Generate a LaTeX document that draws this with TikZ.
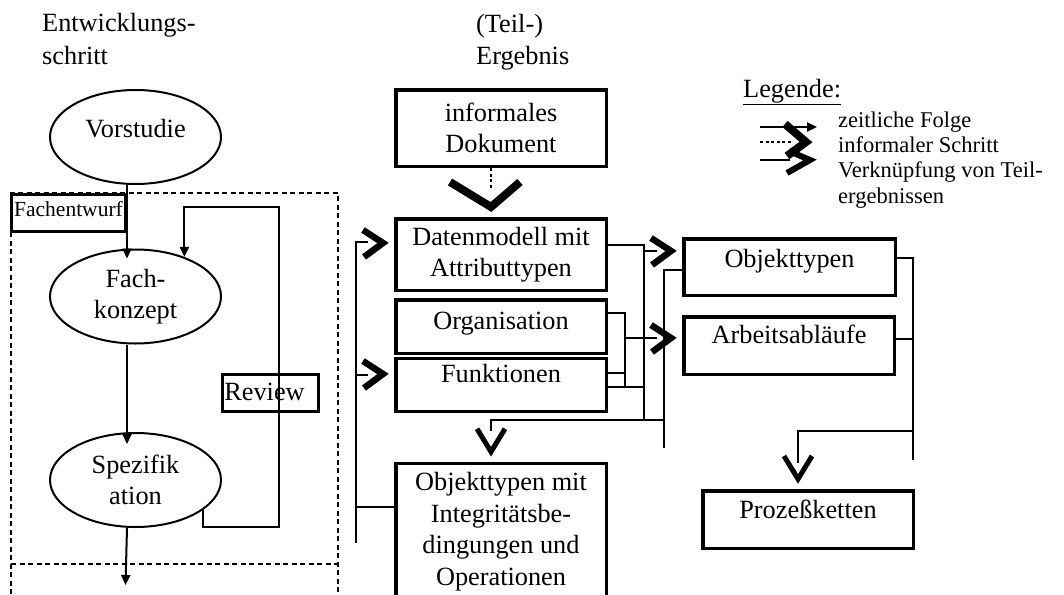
\documentclass[tikz,border=0pt]{standalone}
\usepackage{fontspec}
\setmainfont{Liberation Serif}
\usetikzlibrary{shapes.geometric,arrows.meta,calc}
\begin{document}
\begin{tikzpicture}[x=1pt,y=-1pt,
  every node/.style={inner sep=0pt, font=\fontsize{26.3}{31.5}\selectfont},
  sfont/.style={font=\fontsize{22.5}{25.3}\selectfont},
  fefont/.style={font=\fontsize{21.5}{25}\selectfont},
  box/.style={draw, line width=3.5pt, rectangle, minimum width=210.5pt},
  thinbox/.style={draw, line width=3pt, rectangle},
  ell/.style={draw, ellipse, line width=2pt, minimum width=171pt, minimum height=94pt, align=center},
  ln/.style={line width=2.2pt},
  arr/.style={line width=2pt, -{Triangle[length=10pt,width=9pt]}},
  dsh/.style={line width=1.3pt, dash pattern=on 5pt off 3.5pt},
  dotln/.style={line width=1.8pt, dash pattern=on 3pt off 2.5pt},
  chev/.style={line width=6.5pt, line join=miter, miter limit=10},
  chevR/.pic={\draw[chev] (-20,-13) -- (0,0) -- (-19,14);},
  chevD/.pic={\draw[chev, line width=5pt] (-14,-23) -- (0,0) -- (14,-23);},
  chevI/.pic={\draw[chev, line width=8pt] (-41,-25) -- (0,0) -- (29,-25);},
]
\useasboundingbox (0,0) rectangle (1064,594);
\clip (0,0) rectangle (1064,594);
\fill[white] (0,0) rectangle (1064,594);

% headers
\node[anchor=base west] (hA1) at (42,32) {Entwicklungs-};
\node[anchor=base west] (hA2) at (42,64) {schritt};
\node[anchor=base west] (hB1) at (476,33) {(Teil-)};
\node[anchor=base west] (hB2) at (476,64) {Ergebnis};

% legend
\node[anchor=base west] (lg0) at (743,97) {\underline{Legende:}};
\node[anchor=base west, sfont] (lg1) at (838,127) {zeitliche Folge};
\node[anchor=base west, sfont] (lg2) at (838,152) {informaler Schritt};
\node[anchor=base west, sfont] (lg3) at (838,177) {Verknüpfung von Teil-};
\node[anchor=base west, sfont] (lg4) at (838,203) {ergebnissen};
\draw[ln, -{Triangle[length=10pt,width=9pt]}] (760,127) -- (817,127);
\draw[dotln] (760,142) -- (792,142);
\draw[ln] (760,160) -- (790,160);
\draw[chev, line width=8pt] (785,124) -- (806,142) -- (787,156);
\draw[chev, line width=6pt] (789,151) -- (810,160) -- (787,173);

% dashed phase frame
\draw[dsh] (11,594) -- (11,193) -- (338,193) -- (338,594);
\draw[dsh] (11,564) -- (338,564);

% left column
\node[ell, text height=18pt, text depth=18pt] (vs) at (135.5,137) {Vorstudie};
\node[ell] (fk) at (135.5,296.5) {Fach-\\konzept};
\node[ell] (sp) at (135.5,480) {Spezifik\\ation};
\node[thinbox, fefont, fill=white, minimum width=114pt, minimum height=37pt, text height=15pt, text depth=7.6pt] (fe) at (68.5,213) {Fachentwurf};
\node[thinbox, minimum width=96pt, minimum height=37pt, text height=18pt, text depth=2.6pt] (rv) at (270.5,393) {Review\kern12pt};

\coordinate (rb) at (279,527);
\coordinate (rt) at (279,207);
\coordinate (dn) at (125.5,585);
\draw[arr] (vs.south -| fe.east) -- ($(fk.north -| fe.east)+(0,10)$);
\draw[arr] (fk.south -| fe.east) -- ($(sp.north -| fe.east)+(0,12)$);
\draw[arr] (sp.south -| fe.east) -- (dn);
\draw[arr] (sp.-24) |- (rb) -- (rt) -| (fk.39);

% middle column
\node[box, minimum height=76.5pt, align=center] (idoc) at (501,128) {informales\\Dokument};
\node[box, minimum height=71.5pt, align=center] (dm) at (501,254.5) {Datenmodell mit\\Attributtypen};
\node[box, minimum height=53.5pt, text height=18pt, text depth=13pt] (org) at (501,326.5) {Organisation};
\node[box, minimum height=52.75pt, text height=18pt, text depth=23.8pt] (fkt) at (501,384.9) {Funktionen};
\node[box, minimum height=136.5pt, anchor=north, align=center] (otm) at (501,461.75) {Objekttypen mit\\Integritätsbe-\\dingungen und\\Operationen};

% right column
\node[box, minimum width=211.5pt, minimum height=56.5pt, text height=18pt, text depth=18pt] (ot) at (789.5,267) {Objekttypen};
\node[box, minimum height=57.5pt, text height=18pt, text depth=23pt] (aa) at (789,345.5) {Arbeitsabläufe};
\node[box, minimum height=57.5pt, text height=18pt, text depth=21pt] (pk) at (808,519.5) {Prozeßketten};

% junction coordinates
\coordinate (b1) at (644,245);
\coordinate (b1e) at (644,419);
\coordinate (b1f) at (644,387);
\coordinate (c1) at (644,251);
\coordinate (b2t) at (625,313);
\coordinate (b2m) at (625,373);
\coordinate (b2e) at (625,387);
\coordinate (c2) at (625,338);
\coordinate (b3) at (664,270);
\coordinate (b3e) at (664,448);
\coordinate (h1) at (664,420);
\coordinate (v1) at (491,420);
\coordinate (l1) at (356,242);
\coordinate (l2) at (356,375);
\coordinate (l3) at (356,507);
\coordinate (l4) at (356,543);
\coordinate (r1) at (913,258);
\coordinate (r2) at (913,339);
\coordinate (r3) at (913,460);
\coordinate (h2) at (913,431);
\coordinate (p1) at (798,431);

% connectors
\draw[dotln, shorten >=27pt] (idoc.south -| v1) -- (dm.north -| v1);
\pic at ($(dm.north -| v1)+(0,-10)$) {chevI};

\draw[ln] (dm.east |- b1) -- (b1) -- (b1e);
\draw[ln] (fkt.east |- b1f) -- (b1f);
\draw[ln, shorten >=25pt] (c1) -- (ot.west |- c1);
\pic at ($(ot.west |- c1)+(-11,0)$) {chevR};
\draw[ln] (ot.west |- b3) -- (b3) -- (b3e);
\draw[ln] (org.east |- b2t) -- (b2t) -- (b2e);
\draw[ln] (fkt.east |- b2m) -- (b2m);
\draw[ln, shorten >=25pt] (c2) -- (aa.west |- c2);
\pic at ($(aa.west |- c2)+(-11,0)$) {chevR};
\draw[ln, shorten >=31pt] (h1) -- (v1) -- (v1 |- otm.north);
\pic at ($(v1 |- otm.north)+(0,-10)$) {chevD};

\draw[ln] (otm.west |- l3) -- (l3);
\draw[ln, shorten >=26pt] (l4) -- (l1) -- (dm.west |- l1);
\pic at ($(dm.west |- l1)+(-11,1)$) {chevR};
\draw[ln, shorten >=26pt] (l2) -- (fkt.west |- l2);
\pic at ($(fkt.west |- l2)+(-11,-1)$) {chevR};

\draw[ln] (ot.east |- r1) -- (r1) -- (r3);
\draw[ln] (aa.east |- r2) -- (r2);
\draw[ln, shorten >=26pt] (h2) -- (p1) -- (p1 |- pk.north);
\pic at ($(p1 |- pk.north)+(0,-10)$) {chevD};
\end{tikzpicture}
\end{document}
